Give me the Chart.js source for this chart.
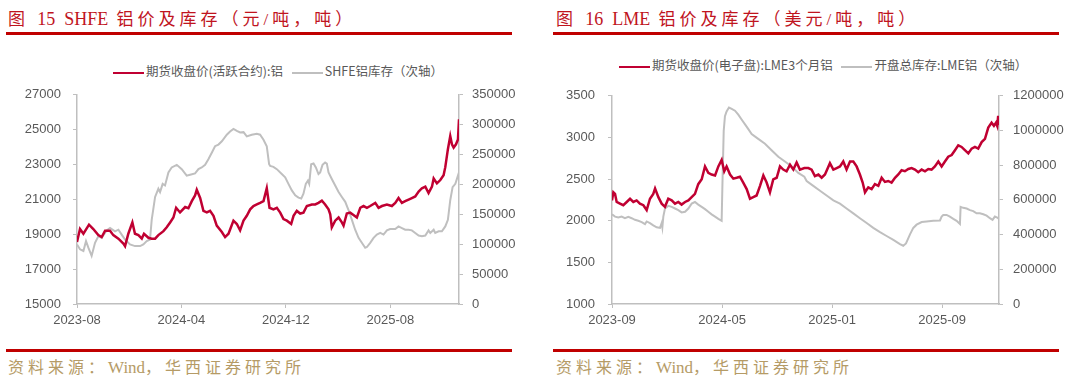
<!DOCTYPE html>
<html>
<head>
<meta charset="utf-8">
<script src="https://cdn.jsdelivr.net/npm/chart.js@4.4.1/dist/chart.umd.min.js"></script>
<style>
  body { margin: 0; width: 1080px; height: 377px; background: #fff; position: relative; overflow: hidden; }
  .title { position: absolute; top: 5px; font: 17px "Liberation Serif", "Noto Sans CJK SC", serif; color: #c0141e; letter-spacing: 4px; white-space: nowrap; }
  .rule { position: absolute; height: 3px; background: #c00000; width: 506px; }
  .source { position: absolute; top: 354px; font: 16px "Liberation Serif", "Noto Sans CJK SC", serif; color: #b59b66; letter-spacing: 4px; white-space: nowrap; }
  .lat { letter-spacing: 0; font-size: 18px; }
  .source .lat { font-size: 17px; }
  .legend { position: absolute; font: 12.5px "Noto Sans CJK SC", sans-serif; color: #595959; white-space: nowrap; }
  .legend span.ln { display: inline-block; width: 31px; vertical-align: middle; margin-right: 2px; }
  .legend span.item { margin-right: 6px; }
  canvas { position: absolute; }
</style>
</head>
<body>
<div class="title" style="left:8px">图 <span class="lat">15&nbsp; SHFE</span> 铝价及库存（元/吨，吨）</div>
<div class="rule" style="left:6px; top:32px"></div>
<div class="title" style="left:556px">图 <span class="lat">16&nbsp; LME</span> 铝价及库存（美元/吨，吨）</div>
<div class="rule" style="left:553px; top:32px"></div>

<div class="legend" style="left:113px; top:61px">
  <span class="item"><span class="ln" style="border-top:2.5px solid #c00032"></span>期货收盘价(活跃合约):铝</span>
  <span class="item"><span class="ln" style="border-top:2px solid #bfbfbf"></span>SHFE铝库存（次轴）</span>
</div>
<div class="legend" style="left:619px; top:55px">
  <span class="item"><span class="ln" style="border-top:2.5px solid #c00032"></span>期货收盘价(电子盘):LME3个月铝</span>
  <span class="item"><span class="ln" style="border-top:2px solid #bfbfbf"></span>开盘总库存:LME铝（次轴）</span>
</div>

<canvas id="shfe" width="540" height="265" style="left:0; top:75px"></canvas>
<canvas id="lme" width="540" height="265" style="left:540px; top:75px"></canvas>

<div class="rule" style="left:6px; top:349px"></div>
<div class="source" style="left:8px">资料来源：<span class="lat">Wind</span>，华西证券研究所</div>
<div class="rule" style="left:553px; top:349px"></div>
<div class="source" style="left:556px">资料来源：<span class="lat">Wind</span>，华西证券研究所</div>

<script>
// x values are months since the first tick label of each chart
const shfeTickLabels = ['2023-08', '2024-04', '2024-12', '2025-08'];
const lmeTickLabels = ['2023-09', '2024-05', '2025-01', '2025-09'];

const shfePriceX = [0, 0.23, 0.49, 0.92, 1.25, 1.63, 1.89, 2.15, 2.53, 2.78, 3.17, 3.55, 3.68, 3.93, 4.24, 4.44, 4.70, 4.96, 5.13, 5.47, 5.72, 5.98, 6.23, 6.62, 6.87, 7.13, 7.38, 7.59, 7.89, 8.28, 8.53, 8.79, 9.04, 9.17, 9.43, 9.68, 9.94, 10.19, 10.45, 10.70, 11.09, 11.34, 11.60, 11.98, 12.24, 12.49, 12.75, 13.00, 13.26, 13.51, 13.77, 14.02, 14.28, 14.53, 14.74,
  15.04, 15.30, 15.56, 15.81, 16.07, 16.40, 16.58, 16.83, 17.09, 17.34, 17.60, 17.98, 18.24, 18.49, 18.75, 19.00, 19.26, 19.39, 19.51, 19.77, 20.03, 20.28, 20.41, 20.66, 20.92, 21.17, 21.43, 21.69, 21.94, 22.20, 22.45, 22.84, 23.09, 23.35, 23.73, 24.11, 24.37, 24.62, 24.88, 25.13, 25.39, 25.64, 25.90, 26.16, 26.41, 26.67, 26.92, 27.18, 27.31, 27.56, 27.82, 28.07, 28.20, 28.40, 28.58, 28.71, 28.84, 29.02, 29.17, 29.25];
const shfePrice = [18560, 19300, 19030, 19550, 19300, 18950, 18840, 19200, 19200, 18950, 18750, 18470, 18320, 19030, 19680, 19030, 18950, 18750, 19030, 18800, 18750, 18750, 18950, 19180, 19400, 19680, 19960, 20520, 20250, 20560, 20490, 20900, 21230, 21550, 21080, 20340, 20250, 20340, 20060, 19500, 19130, 18840, 19030, 19780, 19590, 19220, 19780, 20060, 20430, 20620, 20710, 20800, 20900, 21640, 20520,
  20430, 20520, 20240, 19870, 19780, 19590, 20060, 20340, 20190, 20240, 20620, 20710, 20710, 20800, 20930, 20710, 20430, 20150, 19400, 19780, 19960, 19680, 19500, 20190, 20240, 20110, 19960, 20520, 20620, 20520, 20620, 20800, 20520, 20620, 20710, 20620, 20800, 21080, 20800, 20900, 20990, 21080, 21170, 21450, 21640, 21730, 21360, 21730, 22200, 21920, 22110, 22390, 22850, 23880, 24630, 24160, 23970, 24160, 24440, 25600];

const shfeStockX = [0, 0.23, 0.49, 0.69, 0.87, 1.12, 1.38, 1.63, 1.89, 2.27, 2.53, 2.91, 3.17, 3.42, 3.68, 4.06, 4.44, 4.83, 5.08, 5.34, 5.59, 5.72, 5.98, 6.23, 6.36, 6.56, 6.74, 7.00, 7.25, 7.64, 8.02, 8.40, 8.66, 9.04, 9.30, 9.55, 9.81, 10.06, 10.32, 10.57, 10.83, 11.09, 11.47, 11.72, 11.98, 12.24, 12.49, 12.75, 13.00, 13.38, 13.77, 14.02, 14.28, 14.53, 14.71,
  14.79, 15.04, 15.30, 15.68, 15.94, 16.19, 16.45, 16.71, 16.96, 17.17, 17.34, 17.52, 17.68, 17.78, 17.93, 18.11, 18.29, 18.49, 18.62, 18.80, 19.00, 19.13, 19.26, 19.51, 19.77, 20.03, 20.28, 20.54, 20.79, 21.05, 21.30, 21.56, 21.81, 22.07, 22.20, 22.45, 22.71, 22.96, 23.22, 23.47, 23.73, 23.98, 24.37, 24.62, 24.88, 25.13, 25.39, 25.64, 25.90, 26.16, 26.41, 26.67, 26.92, 27.05, 27.31, 27.43, 27.69, 27.94, 28.20, 28.40, 28.58, 28.76, 28.97, 29.17, 29.25];
const shfeStock = [99700, 91500, 88700, 105200, 94200, 80500, 102400, 113400, 110600, 123200, 127100, 121600, 124300, 116100, 107900, 99700, 96900, 96900, 99700, 105200, 107900, 140800, 179100, 192800, 187300, 201000, 198300, 220200, 228400, 232800, 225600, 214700, 216300, 218500, 225600, 228400, 232800, 242100, 253000, 264000, 266700, 272200, 283200, 288600, 293000, 289700, 287000, 287500, 280400, 283200, 284800, 283200, 274900, 264000, 233900,
  231100, 229500, 225600, 217400, 212000, 201000, 190000, 181800, 178000, 176400, 184600, 201000, 206500, 201000, 233900, 235000, 228400, 217400, 220200, 232800, 236600, 235000, 220200, 209200, 198300, 187300, 179100, 170900, 157200, 140800, 124300, 110600, 102400, 94200, 95300, 102400, 110600, 116100, 118900, 116100, 123200, 125400, 125400, 129800, 127100, 124300, 124300, 123200, 118900, 114500, 113400, 114500, 123200, 118900, 124300, 118900, 121600, 121600, 129800, 140800, 173600, 195500, 201000, 214700, 220200];

const lmePriceX = [0, 0.10, 0.22, 0.34, 0.58, 0.82, 1.07, 1.31, 1.55, 1.79, 2.03, 2.28, 2.52, 2.76, 3.00, 3.13, 3.37, 3.61, 3.85, 4.09, 4.34, 4.58, 4.82, 5.06, 5.31, 5.55, 5.79, 6.03, 6.27, 6.52, 6.76, 7.00, 7.24, 7.49, 7.73, 7.97, 8.16, 8.33, 8.58, 8.82, 9.06, 9.30, 9.54, 9.79, 10.03, 10.27, 10.51, 10.76, 11.00, 11.24, 11.48, 11.72, 11.97, 12.21, 12.45, 12.69, 12.94, 13.18, 13.42, 13.66, 13.98,
  14.27, 14.51, 14.75, 15.00, 15.24, 15.48, 15.84, 16.09, 16.33, 16.57, 16.81, 17.05, 17.30, 17.54, 17.78, 18.02, 18.22, 18.39, 18.63, 18.87, 19.11, 19.36, 19.60, 19.84, 20.08, 20.32, 20.57, 20.81, 21.05, 21.29, 21.54, 21.78, 22.02, 22.26, 22.51, 22.75, 22.99, 23.23, 23.47, 23.72, 23.96, 24.20, 24.44, 24.69, 24.93, 25.17, 25.41, 25.65, 25.90, 26.14, 26.38, 26.62, 26.87, 27.11, 27.35, 27.59, 27.76, 27.91, 28.00, 28.07, 28.13];
const lmePrice = [2244, 2341, 2322, 2225, 2205, 2186, 2225, 2264, 2225, 2244, 2205, 2186, 2128, 2264, 2322, 2388, 2283, 2205, 2167, 2264, 2244, 2205, 2225, 2194, 2225, 2244, 2283, 2322, 2439, 2497, 2652, 2575, 2555, 2543, 2652, 2730, 2594, 2652, 2555, 2505, 2516, 2528, 2458, 2380, 2264, 2283, 2303, 2419, 2543, 2458, 2341, 2497, 2516, 2652, 2614, 2594, 2672, 2614, 2699, 2614, 2633,
  2633, 2614, 2536, 2555, 2516, 2555, 2691, 2614, 2633, 2652, 2711, 2614, 2711, 2711, 2652, 2555, 2458, 2341, 2400, 2380, 2439, 2419, 2516, 2466, 2477, 2458, 2516, 2555, 2606, 2594, 2621, 2633, 2614, 2582, 2614, 2594, 2621, 2614, 2652, 2711, 2652, 2711, 2769, 2789, 2847, 2905, 2886, 2847, 2808, 2866, 2886, 2866, 2944, 2983, 3119, 3177, 3139, 3177, 3139, 3260, 3150];

const lmeStockX = [0, 0.22, 0.46, 0.70, 0.94, 1.19, 1.43, 1.67, 1.91, 2.16, 2.40, 2.52, 2.76, 3.00, 3.25, 3.49, 3.61, 3.66, 3.73, 3.85, 4.09, 4.34, 4.58, 4.82, 5.06, 5.31, 5.55, 5.79, 6.03, 6.27, 6.52, 6.76, 7.00, 7.24, 7.49, 7.73, 7.97, 8.02, 8.12, 8.21, 8.33, 8.50, 8.70, 8.94, 9.18, 9.42, 9.67, 9.91, 10.15, 10.63, 11.12, 11.60, 12.09, 12.57, 13.06, 13.54, 13.98,
  14.15, 14.63, 15.12, 15.60, 16.09, 16.57, 17.05, 17.54, 18.02, 18.51, 18.99, 19.48, 19.96, 20.45, 20.93, 21.17, 21.37, 21.66, 21.90, 22.14, 22.51, 22.87, 23.35, 23.84, 23.96, 24.08, 24.32, 24.56, 24.81, 25.05, 25.29, 25.34, 25.53, 25.78, 26.02, 26.26, 26.50, 26.74, 26.99, 27.23, 27.47, 27.66, 27.83, 28.00, 28.13];
const lmeStock = [516900, 503800, 498200, 503800, 494500, 502000, 494500, 485200, 479600, 472100, 460900, 475800, 466500, 453400, 442200, 438500, 466500, 442200, 503800, 550500, 565400, 559800, 550500, 541100, 528100, 531800, 550500, 578500, 587800, 572900, 559800, 546700, 531800, 516900, 503800, 490800, 479600, 662400, 998300, 1082300, 1110300, 1132700, 1125200, 1114000, 1091600, 1063600, 1035600, 1007600, 979700, 951700, 923700, 886400, 849000, 821000, 793100, 755700, 733300,
  709100, 681100, 653100, 625100, 597100, 578500, 550500, 522500, 494500, 466500, 438500, 414300, 391900, 369500, 345200, 335900, 348900, 401200, 438500, 457200, 472100, 475800, 479600, 481400, 503800, 513200, 513200, 503800, 490800, 479600, 460900, 559800, 554200, 550500, 541100, 535500, 522500, 522500, 516900, 509400, 494500, 485200, 503800, 498200, 490800];

const RED = '#c00032';
const GREY = '#bfbfbf';
const AXIS = '#bfbfbf';
const TEXT = '#595959';

function monthOffset(start, label) {
  const [y0, m0] = start.split('-').map(Number);
  const [y1, m1] = label.split('-').map(Number);
  return (y1 - y0) * 12 + (m1 - m0);
}

function pts(xs, ys) {
  return xs.map((x, i) => ({ x: x, y: ys[i] }));
}

function makeChart(id, o) {
  const tickVals = o.tickLabels.map(l => monthOffset(o.tickLabels[0], l));
  const xmax = Math.max(o.priceX[o.priceX.length - 1], o.stockX[o.stockX.length - 1]);
  const font = { family: 'Liberation Sans, Arial, sans-serif', size: 13 };
  const plain = v => String(v); // no thousands separators
  return new Chart(document.getElementById(id).getContext('2d'), {
    type: 'line',
    data: {
      datasets: [{
        data: pts(o.priceX, o.price),
        borderColor: RED,
        borderWidth: 2.5,
        pointRadius: 0,
        tension: 0,
        yAxisID: 'y'
      }, {
        data: pts(o.stockX, o.stock),
        borderColor: GREY,
        borderWidth: 2,
        pointRadius: 0,
        tension: 0,
        yAxisID: 'y1'
      }]
    },
    options: {
      responsive: false,
      animation: false,
      layout: { padding: { top: o.padTop, bottom: 0, left: 0, right: 0 } },
      plugins: { legend: { display: false }, tooltip: { enabled: false } },
      scales: {
        x: {
          type: 'linear',
          min: 0,
          max: xmax,
          afterBuildTicks: s => { s.ticks = tickVals.map(v => ({ value: v })); },
          afterFit: s => { s.height = 36; },
          grid: { drawOnChartArea: false, color: AXIS, tickLength: 4 },
          border: { color: AXIS, width: 1.5 },
          ticks: {
            color: TEXT, font: font, padding: 5, maxRotation: 0,
            callback: v => o.tickLabels[tickVals.indexOf(v)] || ''
          }
        },
        y: {
          position: 'left',
          min: o.yMin, max: o.yMax,
          afterFit: s => { s.width = o.leftW; },
          grid: { drawOnChartArea: false, color: AXIS, tickLength: 4 },
          border: { color: AXIS, width: 1.5 },
          ticks: { stepSize: o.yStep, color: TEXT, font: font, padding: o.leftPad, callback: plain }
        },
        y1: {
          position: 'right',
          min: 0, max: o.y1Max,
          afterFit: s => { s.width = o.rightW; },
          grid: { drawOnChartArea: false, color: AXIS, tickLength: 4 },
          border: { color: AXIS, width: 1.5 },
          ticks: { stepSize: o.y1Step, color: TEXT, font: font, padding: o.rightPad, callback: plain }
        }
      }
    }
  });
}

makeChart('shfe', {
  tickLabels: shfeTickLabels,
  priceX: shfePriceX, price: shfePrice,
  stockX: shfeStockX, stock: shfeStock,
  yMin: 15000, yMax: 27000, yStep: 2000,
  y1Max: 350000, y1Step: 50000,
  leftW: 77, rightW: 81, leftPad: 12, rightPad: 9, padTop: 15
});

makeChart('lme', {
  tickLabels: lmeTickLabels,
  priceX: lmePriceX, price: lmePrice,
  stockX: lmeStockX, stock: lmeStock,
  yMin: 1000, yMax: 3500, yStep: 500,
  y1Max: 1200000, y1Step: 200000,
  leftW: 72, rightW: 81, leftPad: 13, rightPad: 10, padTop: 14
});
</script>
</body>
</html>
